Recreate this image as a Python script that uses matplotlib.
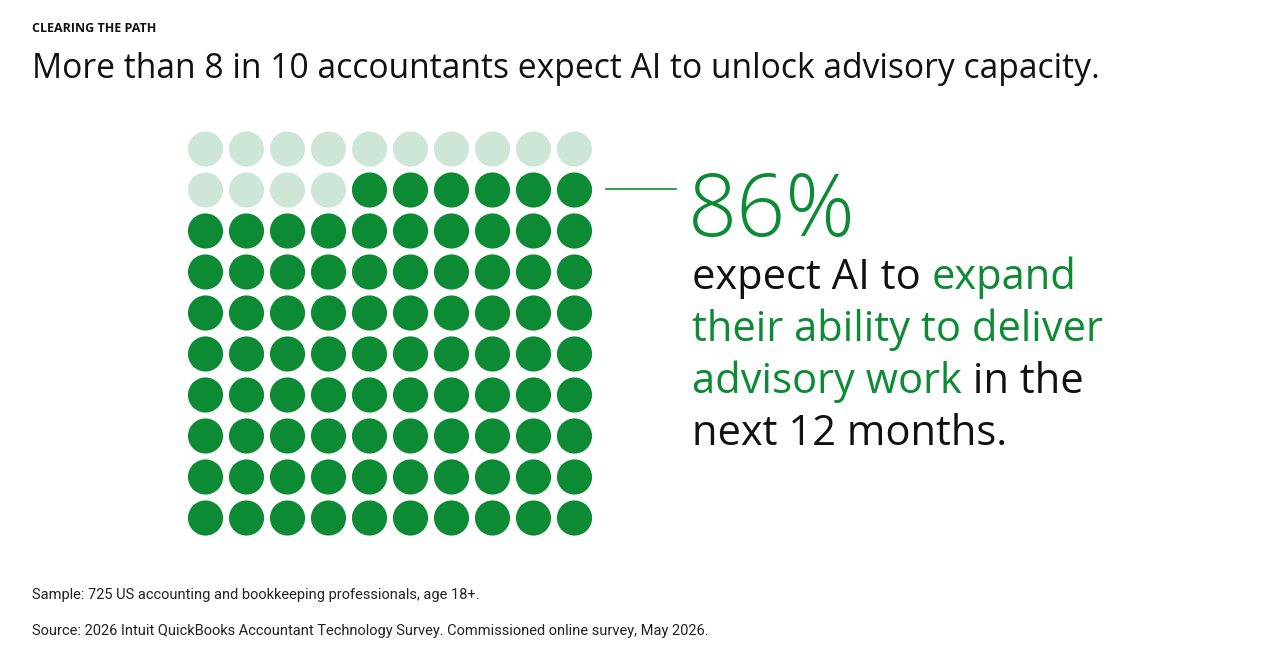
import numpy as np
import matplotlib.pyplot as plt

# data
share_pct = 86
n_rows, n_cols = 10, 10
kicker = "CLEARING THE PATH"
title = "More than 8 in 10 accountants expect AI to unlock advisory capacity."
big_label = "86%"
body_lines = [
    [("expect AI to ", "black"), ("expand", "green")],
    [("their ability to deliver", "green")],
    [("advisory work", "green"), (" in the", "black")],
    [("next 12 months.", "black")],
]
notes = [
    "Sample: 725 US accounting and bookkeeping professionals, age 18+.",
    "Source: 2026 Intuit QuickBooks Accountant Technology Survey. Commissioned online survey, May 2026.",
]

GREEN = "#0c8a34"
LIGHT = "#cde6d8"
colors = {"green": GREEN, "black": "#111111"}
plt.rcParams['font.family'] = ['Open Sans', 'DejaVu Sans']

fig = plt.figure(figsize=(12.8, 6.59), dpi=100)
ax = fig.add_axes([0, 0, 1, 1])
ax.set_xlim(0, 1280)
ax.set_ylim(659, 0)
ax.axis('off')

# waffle grid: top-left cells are the remainder
rows, cols = np.divmod(np.arange(n_rows * n_cols), n_cols)
n_empty = n_rows * n_cols - share_pct
cell_colors = [LIGHT if i < n_empty else GREEN for i in range(n_rows * n_cols)]
x0, y0, step = 205.5, 149, 41
ax.scatter(x0 + cols * step, y0 + rows * step, s=640, c=cell_colors, linewidths=0)

# headers
ax.text(32, 28, kicker, fontsize=9, fontweight='bold', va='center', color='#111111')
ax.text(32, 78, title, fontsize=24.2, va='baseline', color='#111111')

# connector line and big number
ax.plot([606, 676], [189, 189], color=GREEN, lw=1.2)
ax.text(688, 236, big_label, fontsize=62, va='baseline', color=GREEN, fontweight='light')

# body text with mixed colors
fig.canvas.draw()
renderer = fig.canvas.get_renderer()
baselines = [289, 341, 393, 445]
for line, yb in zip(body_lines, baselines):
    x = 692
    for seg, col in line:
        t = ax.text(x, yb, seg, fontsize=30, va='baseline', color=colors[col])
        bb = t.get_window_extent(renderer)
        x += bb.width

# footnotes
ax.text(32, 595, notes[0], fontsize=10.5, va='center', color='#222222',
        family=['Roboto', 'DejaVu Sans'])
ax.text(32, 631, notes[1], fontsize=10.5, va='center', color='#222222',
        family=['Roboto', 'DejaVu Sans'])

fig.savefig("out.png", dpi=100, facecolor='white')
